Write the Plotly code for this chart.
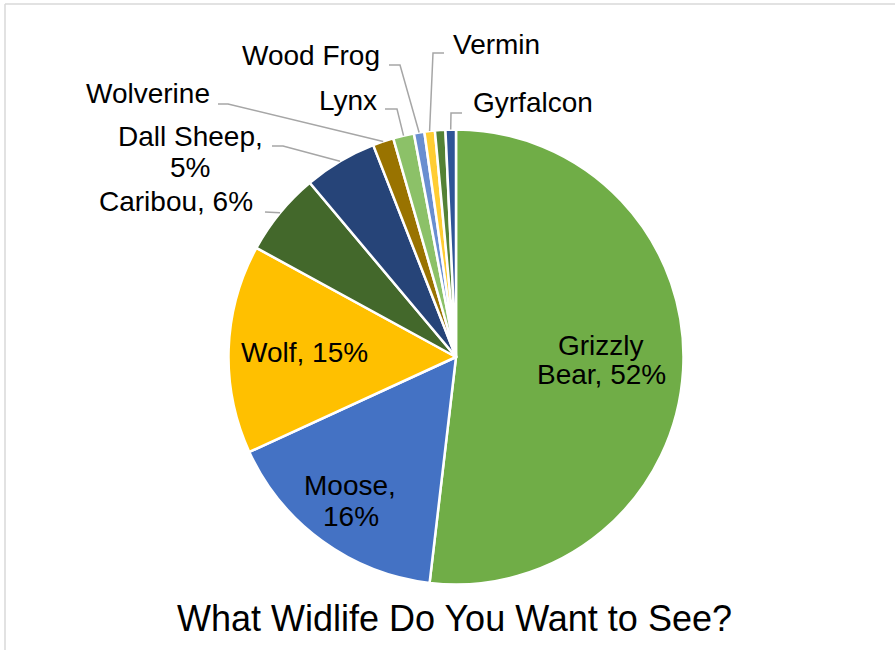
import math
import plotly.graph_objects as go

# Survey responses: "What wildlife do you want to see?"
species = ["Grizzly Bear", "Moose", "Wolf", "Caribou", "Dall Sheep", "Wolverine",
           "Lynx", "Wood Frog", "Vermin", "", "Gyrfalcon"]
votes = [70, 22, 20, 8, 7, 2, 2, 1, 1, 1, 1]
slice_colors = ["#70AD47", "#4472C4", "#FFC000", "#43682B", "#264478", "#997300",
                "#8CC168", "#698ED0", "#FFCD33", "#548235", "#2F5597"]
title_text = "What Widlife Do You Want to See?"

W, H = 895, 650
CX, CY, R = 456, 357, 227.5   # pie centre and radius in pixels
FONT = "Liberation Sans, Arial, Helvetica, sans-serif"

total = sum(votes)
pct = [f"{round(100 * v / total)}%" for v in votes]


def px(x, y):
    return x / W, 1 - y / H


def edge_point(i):
    # midpoint of slice i on the rim (clockwise from 12 o'clock)
    start = sum(votes[:i]) / total * 360
    mid = math.radians(start + votes[i] / total * 180)
    return CX + R * math.sin(mid), CY - R * math.cos(mid)


fig = go.Figure(go.Pie(
    labels=[s if s else " " for s in species],
    values=votes,
    sort=False,
    direction="clockwise",
    rotation=0,
    marker=dict(colors=slice_colors, line=dict(color="white", width=2.5)),
    textinfo="none",
    hoverinfo="label+percent",
    domain=dict(x=[(CX - R) / W, (CX + R) / W], y=[1 - (CY + R) / H, 1 - (CY - R) / H]),
))

# label lines: (text, centre x, centre y) in pixels
label_lines = [
    ("Grizzly", 601, 346),
    (f"Bear, {pct[0]}", 601, 375),
    ("Moose,", 350, 485),
    (pct[1], 351, 516),
    (f"Wolf, {pct[2]}", 304, 352),
    (f"Caribou, {pct[3]}", 176, 202),
    ("Dall Sheep,", 190, 136),
    (pct[4], 190, 167),
    (species[5], 148, 94),
    (species[6], 348, 101),
    (species[7], 311, 56),
    (species[8], 496, 45),
    (species[10], 533, 103),
]

annotations = []
for text, x, y in label_lines:
    ax, ay = px(x, y)
    annotations.append(dict(text=text, x=ax, y=ay, xref="paper", yref="paper",
                            xanchor="center", yanchor="middle", showarrow=False,
                            font=dict(family=FONT, size=28, color="black")))

tx, ty = px(454, 618)
annotations.append(dict(text=title_text, x=tx, y=ty, xref="paper", yref="paper",
                        xanchor="center", yanchor="middle", showarrow=False,
                        font=dict(family=FONT, size=36, color="black")))

# leader lines from label to slice rim
leaders = [
    (5, [(218, 104), (228, 104)]),
    (4, [(272, 146), (283, 146)]),
    (3, [(265, 212)]),
    (6, [(385, 109), (397, 109)]),
    (7, [(389, 65), (400, 65)]),
    (8, [(444, 53), (433, 53)]),
    (10, [(462, 113), (451, 113)]),
]

shapes = []
for idx, pts in leaders:
    pts = pts + [edge_point(idx)]
    path = ""
    for k, (x, y) in enumerate(pts):
        a, b = px(x, y)
        path += ("M" if k == 0 else "L") + f"{a:.5f},{b:.5f} "
    shapes.append(dict(type="path", path=path.strip(), xref="paper", yref="paper",
                       line=dict(color="#A6A6A6", width=1.5)))

# chart area border (top and left edges)
for (x0, y0, x1, y1) in [(5, 4, 895, 4), (5, 4, 5, 650)]:
    a0, b0 = px(x0, y0)
    a1, b1 = px(x1, y1)
    shapes.append(dict(type="line", x0=a0, y0=b0, x1=a1, y1=b1, xref="paper", yref="paper",
                       line=dict(color="#D9D9D9", width=1.5)))

fig.update_layout(
    width=W, height=H,
    margin=dict(l=0, r=0, t=0, b=0),
    paper_bgcolor="white",
    plot_bgcolor="white",
    showlegend=False,
    annotations=annotations,
    shapes=shapes,
)

fig.write_html("out.html")
